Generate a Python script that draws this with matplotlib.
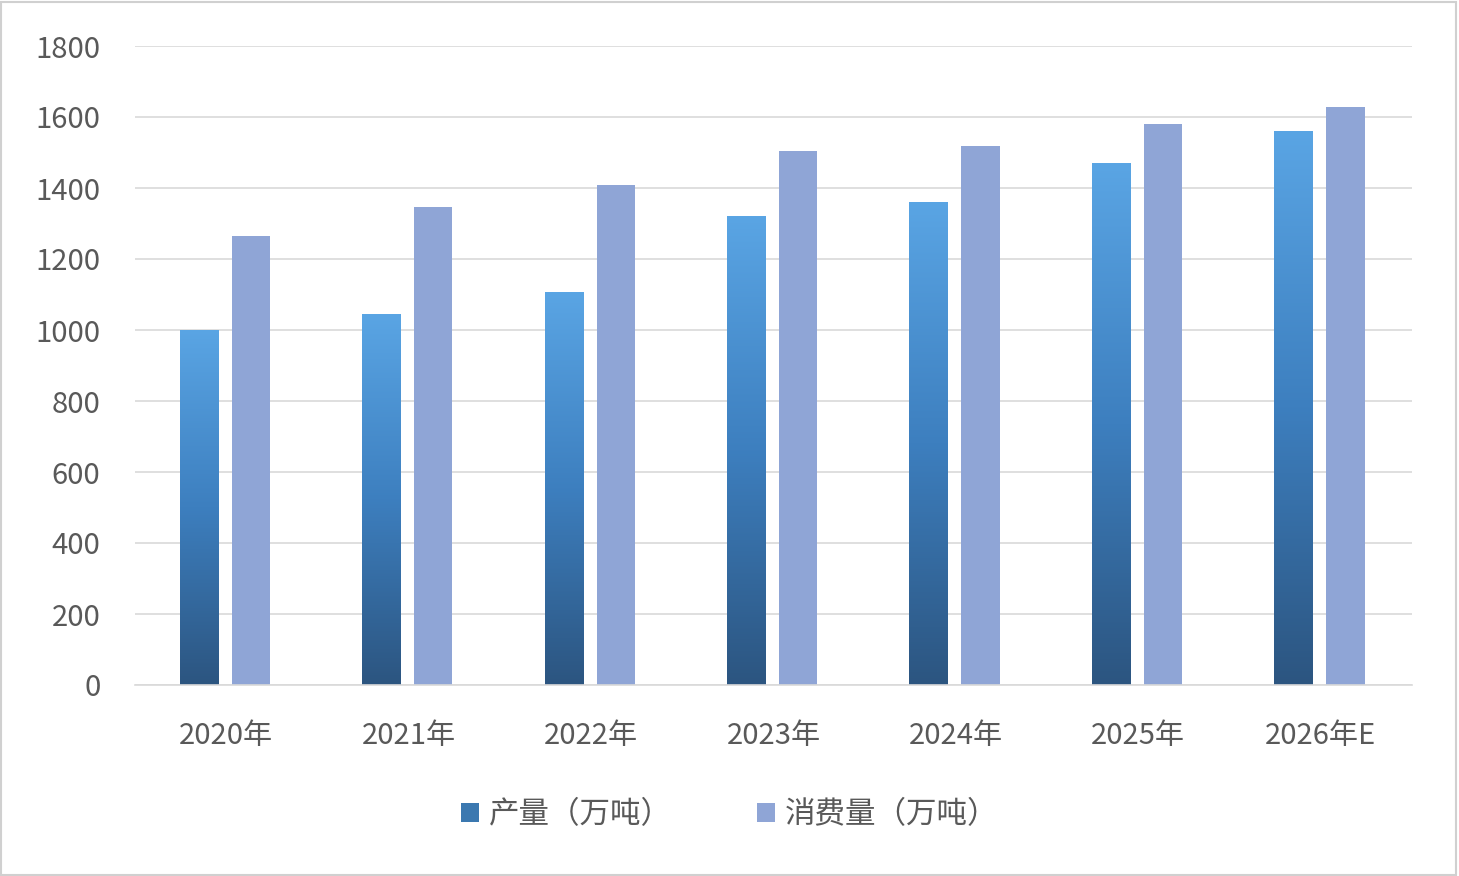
import matplotlib
matplotlib.use("Agg")
import matplotlib.pyplot as plt
import numpy as np
from matplotlib.colors import LinearSegmentedColormap
from matplotlib.patches import Rectangle

plt.rcParams['font.family'] = ['Noto Sans CJK SC', 'DejaVu Sans']

years = ["2020年", "2021年", "2022年", "2023年", "2024年", "2025年", "2026年E"]
production = [1000, 1045, 1107, 1321, 1361, 1470, 1561]
consumption = [1265, 1346, 1408, 1504, 1518, 1580, 1628]

fig = plt.figure(figsize=(14.59, 8.76), dpi=100)
ax = fig.add_axes([135 / 1459, 1 - 685 / 876, (1412 - 135) / 1459, (685 - 46) / 876])

x = np.arange(len(years))
w = 0.21
grad = LinearSegmentedColormap.from_list("g", ["#2c5580", "#3d7fbf", "#5aa5e4"])
gimg = np.linspace(0, 1, 256).reshape(-1, 1)

bars = ax.bar(x - 0.15, production, w, color="#4a8fcf", zorder=2)
for b in bars:
    x0 = b.get_x()
    im = ax.imshow(gimg, cmap=grad, origin="lower", aspect="auto",
                   extent=[x0, x0 + b.get_width(), 0, b.get_height()], zorder=2.5)
    im.set_clip_path(b)
ax.bar(x + 0.135, consumption, w, color="#8fa5d6", zorder=2)

ax.set_xlim(-0.5, len(years) - 0.5)
ax.set_ylim(0, 1800)
ax.set_yticks(range(0, 1801, 200))
ax.set_xticks(x)
ax.set_xticklabels(years)
ax.tick_params(axis="both", length=0, labelsize=21, colors="#595959")
ax.tick_params(axis="x", pad=26)
ax.tick_params(axis="y", pad=25)
ax.grid(axis="y", color="#d9d9d9", linewidth=1.2, zorder=0)
for s in ["top", "right", "left"]:
    ax.spines[s].set_visible(False)
ax.spines["bottom"].set_color("#d9d9d9")
ax.spines["bottom"].set_linewidth(1.2)

h1 = Rectangle((0, 0), 1, 1, facecolor="#3b78b0")
h2 = Rectangle((0, 0), 1, 1, facecolor="#8fa5d6")
fig.legend([h1, h2], ["产量（万吨）", "消费量（万吨）"], loc="center",
           bbox_to_anchor=(0.5, 1 - 815 / 876), ncol=2, frameon=False,
           fontsize=22, handlelength=0.6, handleheight=0.6, columnspacing=2.8,
           handletextpad=0.3, labelcolor="#595959")

fig.add_artist(Rectangle((0.001, 0.001), 0.997, 0.997, transform=fig.transFigure,
                         fill=False, edgecolor="#d0d0d0", linewidth=1.5))
fig.savefig("out.png", dpi=100)
